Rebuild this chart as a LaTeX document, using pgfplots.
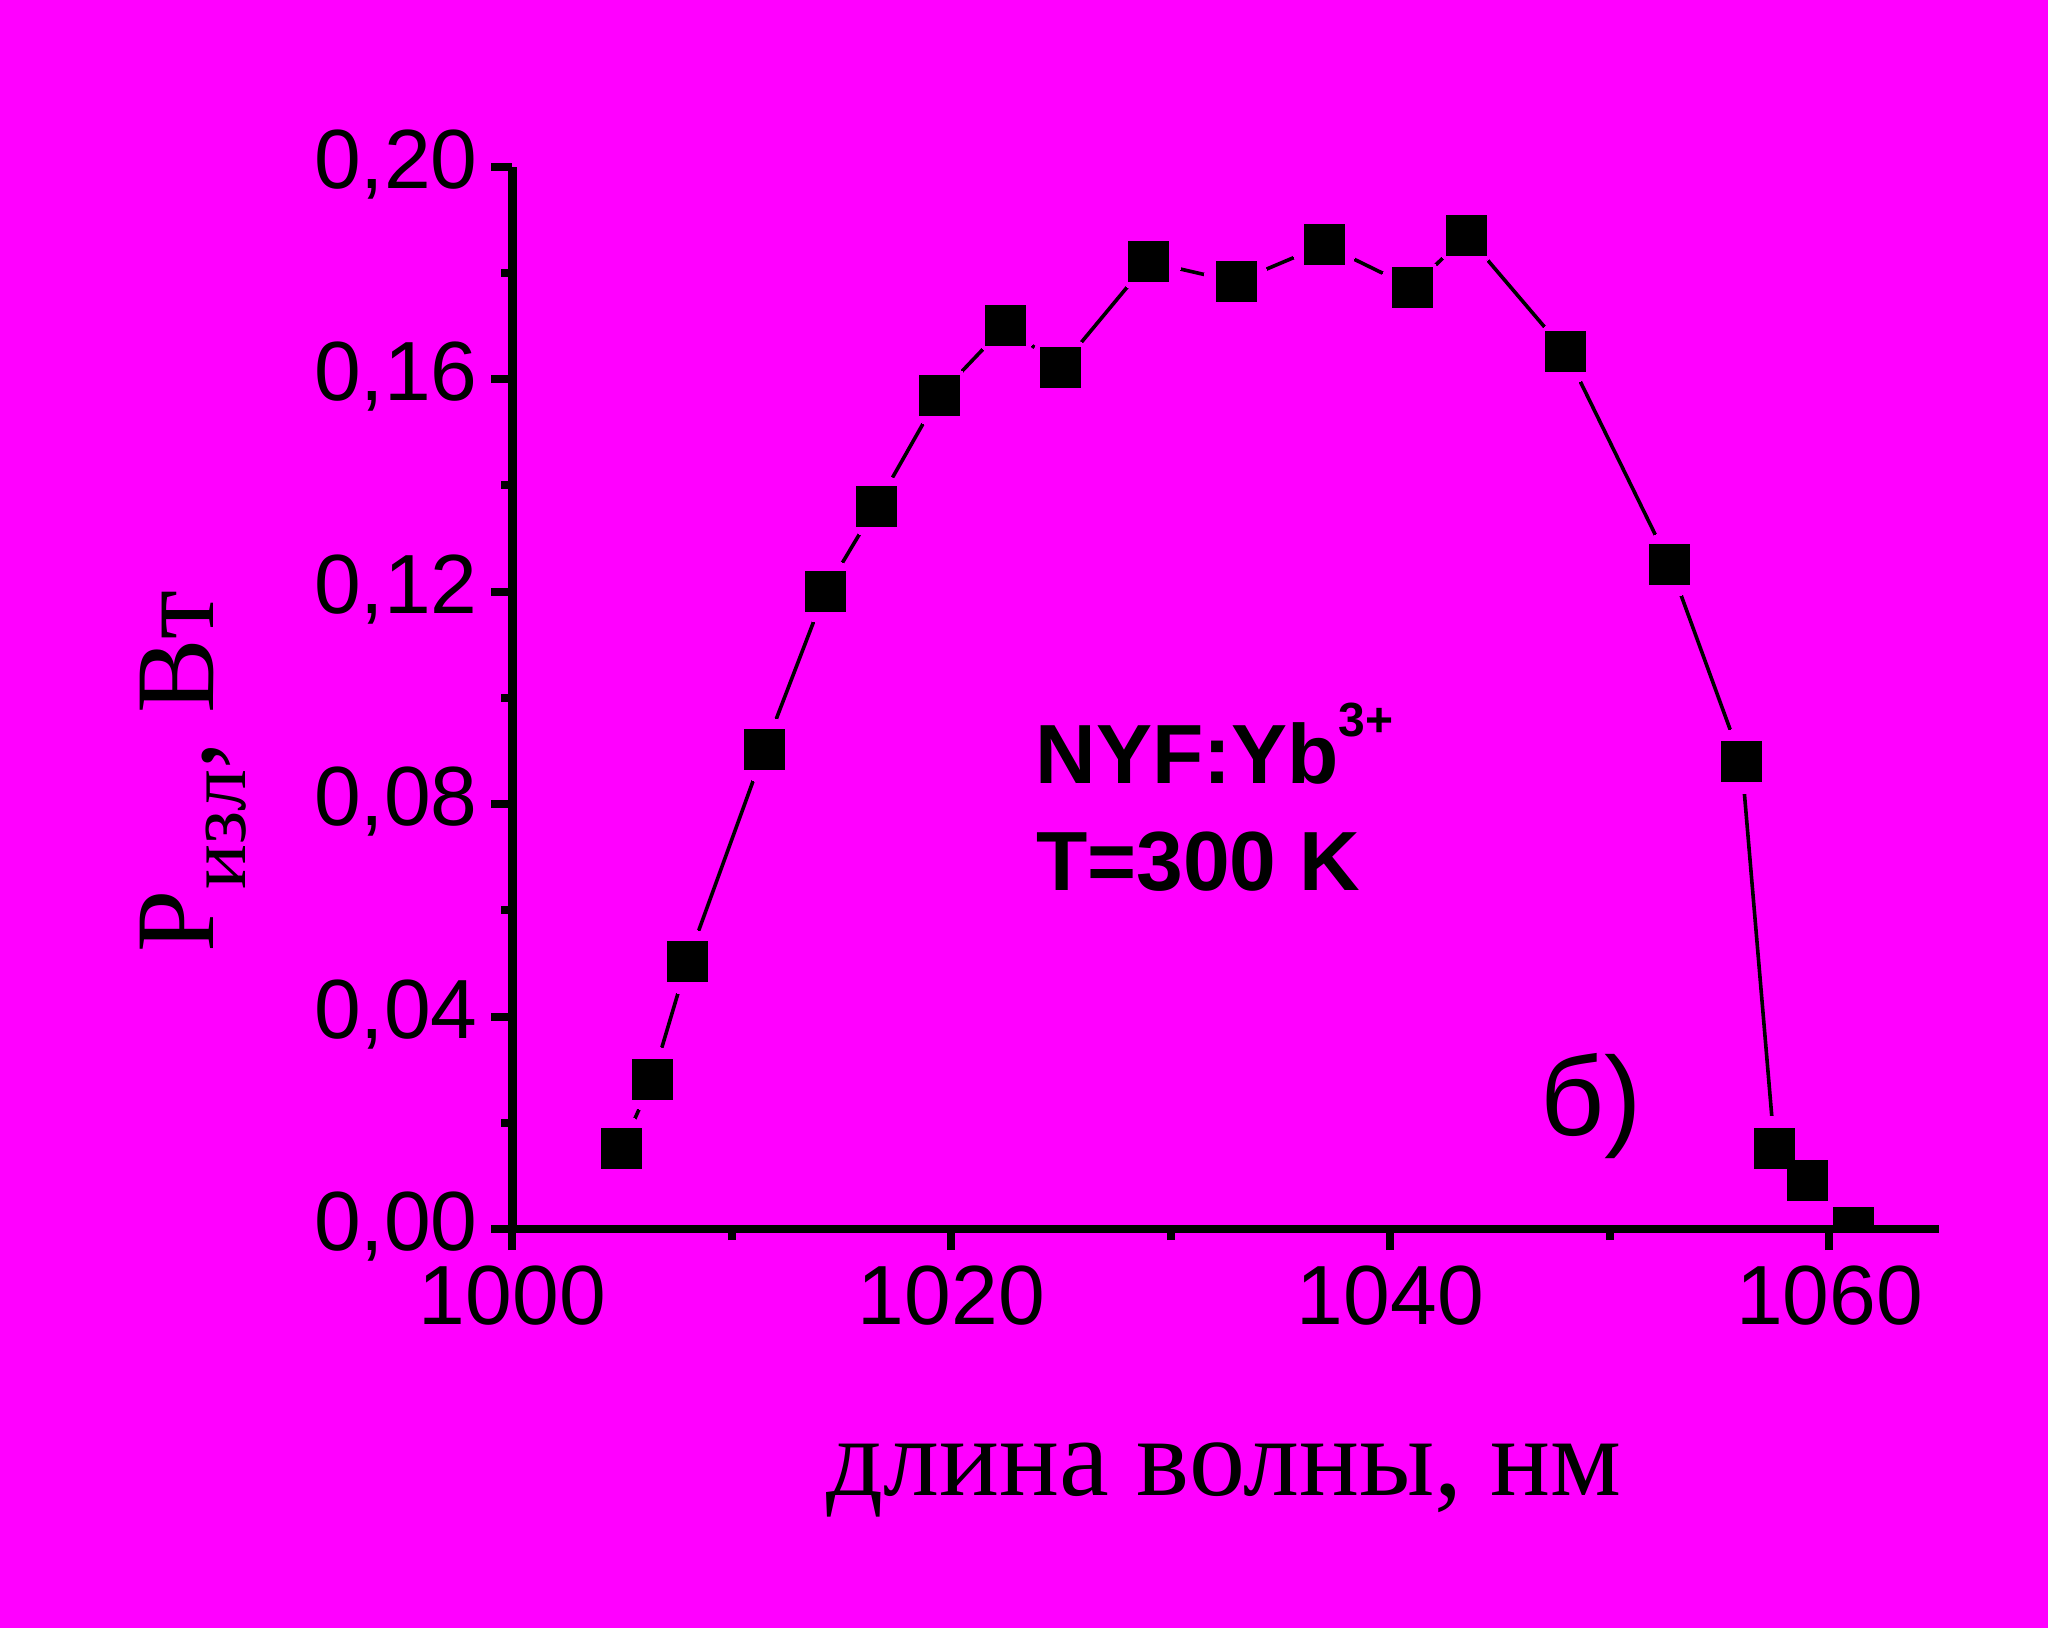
\documentclass[border=0pt]{standalone}
\usepackage{fontspec}
\setmainfont{Liberation Serif}
\newfontfamily\arial{Liberation Sans}
\usepackage{pgfplots}
\pgfplotsset{compat=1.18}
\usepackage{pgfplotstable}
\definecolor{bg}{RGB}{255,0,255}
\pgfplotstableread{
x y
1004.97 0.0151
1006.38 0.0282
1007.97 0.0503
1011.48 0.0902
1014.26 0.1201
1016.58 0.1361
1019.45 0.1570
1022.47 0.1701
1024.97 0.1622
1028.97 0.1821
1032.98 0.1783
1036.99 0.1853
1041.00 0.1772
1043.46 0.1871
1047.99 0.1651
1052.73 0.1251
1056.00 0.0881
1057.50 0.0151
1059.00 0.0092
1061.10 0.0003
}\data
\begin{document}
\begin{tikzpicture}[x=1pt,y=1pt]
\fill[bg] (0,0) rectangle (512,407);
\useasboundingbox (0,0) rectangle (512,407);
\begin{axis}[
  at={(128.1pt,99.75pt)}, anchor=south west,
  scale only axis, width=356.7pt, height=265.6pt,
  xmin=1000, xmax=1065, ymin=0, ymax=0.2,
  axis lines=left, axis line style={-, line width=2.1pt, black},
  axis on top, clip marker paths=true,
  xtick={1000,1020,1040,1060},
  ytick={0,0.04,0.08,0.12,0.16,0.2},
  minor xtick={1010,1030,1050},
  minor ytick={0.02,0.06,0.10,0.14,0.18},
  tick align=outside, major tick length=5.3pt, minor tick length=2.8pt,
  every tick/.style={black, line width=2pt},
  scaled y ticks=false, scaled x ticks=false,
  /pgf/number format/assume math mode=true,
  ticklabel style={font=\arial\fontsize{21}{21}\selectfont, inner sep=0pt},
  yticklabel style={/pgf/number format/fixed, /pgf/number format/fixed zerofill, /pgf/number format/precision=2, /pgf/number format/use comma, xshift=-3.2pt, yshift=0.6pt},
  xticklabel style={/pgf/number format/set thousands separator={}, yshift=-3.7pt},
  xlabel={длина волны, нм},
  xlabel style={font=\fontsize{28}{28}\selectfont, at={(axis description cs:0.4987,-0.2504)}, anchor=base, inner sep=0pt},
  ylabel={P\raisebox{-8pt}{\fontsize{21}{21}\selectfont изл}, Вт},
  ylabel style={font=\fontsize{28}{28}\selectfont, at={(axis description cs:-0.2098,0.2598)}, anchor=base west, inner sep=0pt},
]
\addplot[black, line width=0.9pt, no marks] table {\data};
\addplot[only marks, mark=*, mark size=8.15pt, mark options={fill=bg, draw=bg, line width=0pt}] table {\data};
\addplot[only marks, mark=square*, mark size=5pt, mark options={fill=black, draw=black, line width=0pt}] table {\data};
\end{axis}
\node[anchor=base west, inner sep=0pt, font=\arial\bfseries\fontsize{21}{21}\selectfont] at (258.7,211) {NYF:Yb\raisebox{11.75pt}{\fontsize{12}{12}\selectfont 3+}};
\node[anchor=base west, inner sep=0pt, font=\arial\bfseries\fontsize{21}{21}\selectfont] at (258.8,184.25) {T=300 K};
\node[anchor=base west, inner sep=0pt, font=\arial\fontsize{28}{28}\selectfont] at (384.8,123) {б)};
\end{tikzpicture}
\end{document}
